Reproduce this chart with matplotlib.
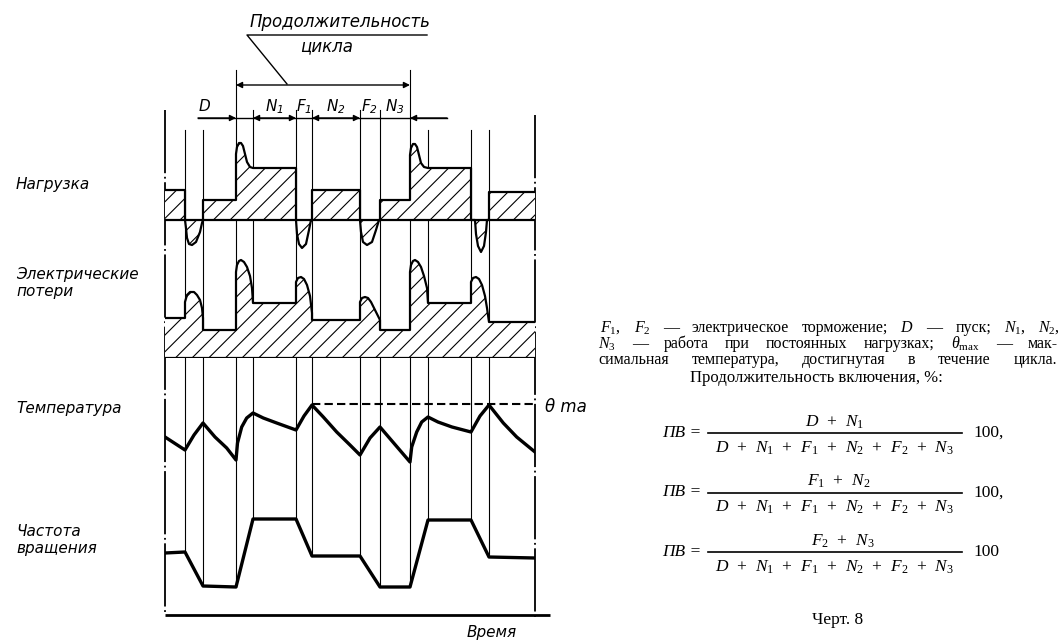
import matplotlib.pyplot as plt

plt.rcParams['mathtext.fontset'] = 'custom'
plt.rcParams['mathtext.it'] = 'Liberation Serif:italic'
plt.rcParams['mathtext.rm'] = 'Liberation Serif'
plt.rcParams['mathtext.sf'] = 'DejaVu Sans:italic'
plt.rcParams['hatch.linewidth'] = 0.8

# time breakpoints of the duty cycle (arbitrary time units)
breaks = [0, 20, 38, 71, 88, 131, 147, 195, 215, 245, 263, 306, 324, 370]
# rotational speed at each breakpoint
speed = [62, 63, 29, 28, 96, 96, 59, 59, 28, 28, 95, 95, 58, 57]

# load curve (time, value), zero = no load
load_t = [0, 20, 20, 21, 22, 24, 27, 31, 35, 37, 38, 38,
          71, 71, 72, 74, 76, 78, 80, 82, 85, 88,
          131, 131, 132, 134, 137, 141, 144, 146, 147, 147,
          195, 195, 196, 198, 202, 207, 211, 214, 215, 215,
          245, 245, 246, 248, 250, 252, 254, 256, 259, 263,
          306, 306, 310, 311, 313, 316, 319, 321, 322, 324, 324, 370]
load_v = [30, 30, 0, -8, -18, -24, -25, -22, -12, -3, 0, 20,
          20, 66, 73, 77, 77, 74, 66, 58, 53, 52,
          52, 0, -14, -24, -28, -24, -10, 0, 0, 30,
          30, 0, -12, -22, -25, -22, -10, 0, 0, 20,
          20, 65, 72, 76, 76, 73, 65, 57, 53, 52,
          52, 0, 0, -14, -26, -32, -26, -12, 0, 0, 28, 28]

# electrical losses
loss_t = [0, 20, 20, 22, 25, 29, 32, 35, 37, 38, 38,
          71, 71, 72, 74, 76, 79, 82, 85, 87, 88,
          131, 131, 133, 136, 139, 142, 145, 147, 147,
          195, 195, 197, 200, 203, 206, 209, 213, 215, 215,
          245, 245, 246, 248, 250, 253, 256, 259, 262, 263,
          306, 306, 308, 311, 314, 317, 320, 322, 324, 370]
loss_v = [40, 40, 56, 63, 66, 66, 63, 58, 50, 40, 28,
          28, 86, 93, 97, 98, 96, 91, 82, 70, 55,
          55, 76, 80, 81, 79, 73, 62, 45, 38,
          38, 56, 60, 61, 60, 56, 50, 42, 38, 28,
          28, 86, 93, 97, 98, 96, 91, 82, 70, 55,
          55, 76, 80, 81, 79, 73, 62, 50, 36, 36]

# temperature
temp_t = [0, 20, 29, 38, 50, 61.7, 71, 72.5, 76.7, 81.7, 88, 98.3, 111.7,
          131, 139, 147, 158.3, 171.7, 185, 195, 205, 215, 245, 246.7, 251.7,
          256.7, 263, 273, 287, 306, 315, 324, 338.3, 351.7, 370]
temp_v = [33, 20, 35, 47, 33, 22, 10, 27, 43, 52, 57, 52, 47,
          40, 54, 65, 53, 38, 25, 15, 32, 43, 8, 23, 38,
          48, 53, 48, 43, 38, 54, 65, 47, 33, 18]
theta_max = 66

assert len(load_t) == len(load_v) and len(loss_t) == len(loss_v) and len(temp_t) == len(temp_v)

phase_labels = [r'$\mathsf{N}_{\mathsf{1}}$', r'$\mathsf{F}_{\mathsf{1}}$', r'$\mathsf{N}_{\mathsf{2}}$',
                r'$\mathsf{F}_{\mathsf{2}}$', r'$\mathsf{N}_{\mathsf{3}}$']
row_labels = ['Нагрузка', 'Электрические\nпотери', 'Температура', 'Частота\nвращения']

W, H = 1062, 640
X0, X1 = 165, 535

fig = plt.figure(figsize=(W / 100, H / 100), dpi=100)
ov = fig.add_axes([0, 0, 1, 1], zorder=0)
ov.set_xlim(0, W)
ov.set_ylim(H, 0)
ov.axis('off')


def panel(top, bottom, lo, hi):
    ax = fig.add_axes([X0 / W, (H - bottom) / H, (X1 - X0) / W, (bottom - top) / H], zorder=1)
    ax.set_xlim(breaks[0], breaks[-1])
    ax.set_ylim(lo, hi)
    ax.axis('off')
    return ax


def to_ov(ax, x, y):
    return ov.transData.inverted().transform(ax.transData.transform((x, y)))


ax_ld = panel(130, 260, -40, 90)
ax_ls = panel(250, 358, 0, 108)
ax_tp = panel(395, 470, 0, 75)
ax_sp = panel(505, 615, 0, 110)

# load
ax_ld.fill_between(load_t, 0, load_v, facecolor='white', edgecolor='black', hatch='//', linewidth=0, zorder=2)
ax_ld.plot(load_t, load_v, color='black', lw=1.6, zorder=3)
ax_ld.hlines(0, breaks[0], breaks[-1], color='black', lw=1.6, zorder=3)

# losses
ax_ls.fill_between(loss_t, 0, loss_v, facecolor='white', edgecolor='black', hatch='//', linewidth=0, zorder=2)
ax_ls.plot(loss_t, loss_v, color='black', lw=1.6, zorder=3)
ax_ls.hlines(0, breaks[0], breaks[-1], color='black', lw=1.6, zorder=3)

# temperature
ax_tp.plot(temp_t, temp_v, color='black', lw=2.4, solid_joinstyle='round')
ax_tp.hlines(theta_max, breaks[6], breaks[-1], color='black', lw=1.5, linestyles=(0, (4, 2)))
ax_tp.text(breaks[-1] + 10, theta_max - 3, 'θ ma', fontsize=12, style='italic', va='center',
           family='DejaVu Sans', clip_on=False)

# speed
ax_sp.plot(breaks, speed, color='black', lw=2.4)
ax_sp.hlines(0, breaks[0], breaks[-1] + 15, color='black', lw=2.0, clip_on=False)
ax_sp.text(breaks[-1] - 43, -17, 'Время', fontsize=11, style='italic', va='center', ha='center',
           family='DejaVu Sans', clip_on=False)

# thin vertical lines from top down to the speed curve
bx = [to_ov(ax_sp, t, 0)[0] for t in breaks]
line_top = [130, 130, 70, 110, 110, 110, 110, 110, 70, 130, 130, 130]
for t, s, top in zip(breaks[1:-1], speed[1:-1], line_top):
    x, yb = to_ov(ax_sp, t, s)
    ov.plot([x, x], [top, yb], color='black', lw=0.8)

# borders
ov.plot([bx[0], bx[0]], [110, 615], color='black', lw=1.3, linestyle=(0, (35, 2, 1, 2)))
ov.plot([bx[-1], bx[-1]], [115, 618], color='black', lw=1.3, linestyle=(0, (35, 2, 1, 2)))

# dimension lines
ap = dict(color='black', lw=1.0, mutation_scale=9, shrinkA=0, shrinkB=0)
ov.plot([198, 447], [118, 118], color='black', lw=1.0)
ov.annotate('', xy=(bx[3], 118), xytext=(198, 118), arrowprops=dict(arrowstyle='-|>', **ap))
ov.annotate('', xy=(bx[4], 118), xytext=(bx[5], 118), arrowprops=dict(arrowstyle='<|-|>', **ap))
ov.annotate('', xy=(bx[6], 118), xytext=(bx[7], 118), arrowprops=dict(arrowstyle='<|-|>', **ap))
ov.annotate('', xy=(bx[9], 118), xytext=(447, 118), arrowprops=dict(arrowstyle='-|>', **ap))
ov.annotate('', xy=(bx[3], 85), xytext=(bx[9], 85), arrowprops=dict(arrowstyle='<|-|>', **ap))
ov.plot([287, 247, 427], [84, 35, 35], color='black', lw=1.0)
ov.text(205, 106, r'$\mathsf{D}$', fontsize=11, ha='center', va='center')
for i, lab in enumerate(phase_labels):
    xm = (bx[4 + i] + bx[5 + i]) / 2
    ov.text(xm, 107, lab, fontsize=11, ha='center', va='center')
ov.text(340, 22, 'Продолжительность', fontsize=12, style='italic', ha='center', va='center', family='DejaVu Sans')
ov.text(327, 46, 'цикла', fontsize=12, style='italic', ha='center', va='center', family='DejaVu Sans')

# row labels
for lab, y in zip(row_labels, [185, 283, 409, 540]):
    ov.text(16, y, lab, fontsize=11, style='italic', ha='left', va='center', family='DejaVu Sans',
            linespacing=1.15)

# right-hand text block
renderer = fig.canvas.get_renderer()
FS = 12.5
FT = 11.5


def justify(words, x0, x1, y, size=FT):
    ts = [ov.text(0, y, w, fontsize=size, family='Liberation Serif', va='center', ha='left') for w in words]
    ws = [t.get_window_extent(renderer).width for t in ts]
    gap = (x1 - x0 - sum(ws)) / (len(ws) - 1)
    x = x0
    for t, w in zip(ts, ws):
        t.set_x(x)
        x += w + gap


justify([r'$F_1$,', r'$F_2$', '—', 'электрическое', 'торможение;', r'$D$', '—', 'пуск;', r'$N_1$,', r'$N_2$,'],
        600, 1060, 328)
justify([r'$N_3$', '—', 'работа', 'при', 'постоянных', 'нагрузках;', r'$\theta_{\mathrm{max}}$', '—', 'мак-'],
        598, 1058, 344)
justify(['симальная', 'температура,', 'достигнутая', 'в', 'течение', 'цикла.'], 598, 1057, 360)
ov.text(816, 378, 'Продолжительность включения, %:', fontsize=FT + 0.5, family='Liberation Serif',
        ha='center', va='center')

sp = r'\ \,'
numerators = [rf'$D{sp}+{sp}N_1$', rf'$F_1{sp}+{sp}N_2$', rf'$F_2{sp}+{sp}N_3$']
denominator = rf'$D{sp}+{sp}N_1{sp}+{sp}F_1{sp}+{sp}N_2{sp}+{sp}F_2{sp}+{sp}N_3$'
tails = ['100,', '100,', '100']
for i, (num, tail) in enumerate(zip(numerators, tails)):
    yl = 433 + 59.5 * i
    ov.text(701, yl, 'ПВ =', fontsize=FS, family='Liberation Serif', style='italic', ha='right', va='center')
    ov.plot([708, 962], [yl, yl], color='black', lw=1.2)
    ov.text(835 + 4 * i, yl - 11, num, fontsize=FS, ha='center', va='center')
    ov.text(835, yl + 15, denominator, fontsize=FS, ha='center', va='center')
    ov.text(973, yl, tail, fontsize=FS, family='Liberation Serif', ha='left', va='center')
ov.text(838, 620, 'Черт. 8', fontsize=FS, family='Liberation Serif', ha='center', va='center')

fig.savefig('out.png', dpi=100)
